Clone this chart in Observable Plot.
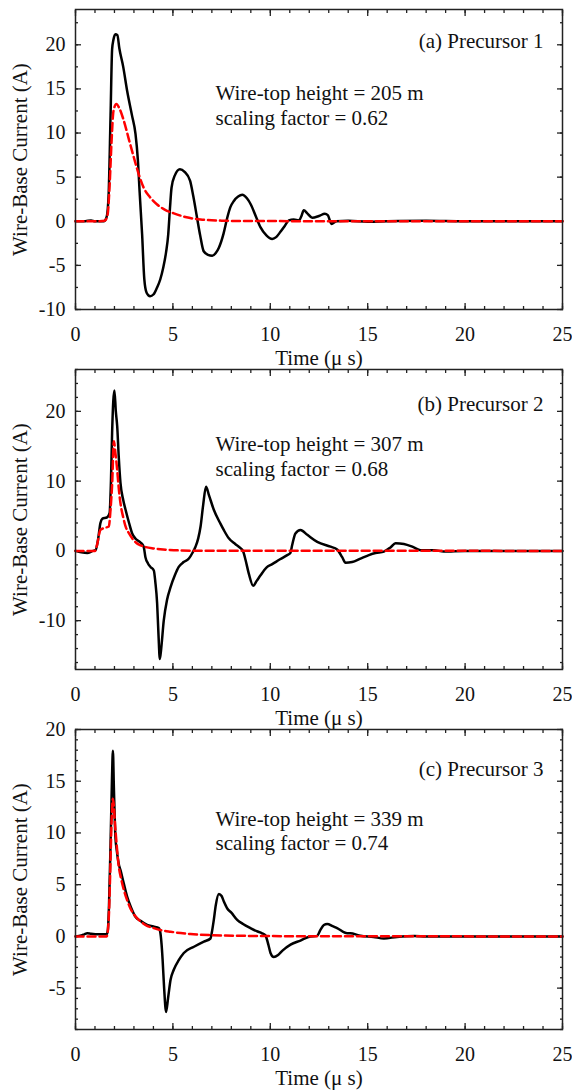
<!DOCTYPE html>
<html><head><meta charset="utf-8">
<script src="https://cdn.jsdelivr.net/npm/d3@7"></script>
<script src="https://cdn.jsdelivr.net/npm/@observablehq/plot@0.6"></script>
<style>
body{margin:0;background:#fff}
#chart svg{display:block;overflow:visible !important;background:transparent !important;font-family:"Liberation Serif","Times New Roman",serif !important;font-size:20px}
#chart svg text{font-family:"Liberation Serif","Times New Roman",serif !important}
</style>
</head><body><div id="chart"></div>
<script>
// ---- Data (time in µs, current in A) ----
const p1MeasT = [0,0.5,0.8,1.0,1.45,1.6,1.7,1.8,1.88,1.95,2.05,2.15,2.25,2.45,2.65,2.9,3.08,3.2,3.3,3.42,3.53,3.65,3.83,4.0,4.17,4.35,4.5,4.65,4.76,4.85,4.93,5.1,5.36,5.6,5.88,6.05,6.24,6.4,6.58,6.8,7.02,7.2,7.36,7.6,7.79,7.95,8.13,8.35,8.56,8.8,9.0,9.25,9.5,9.8,10.1,10.3,10.52,10.75,10.95,11.2,11.47,11.6,11.72,11.9,12.15,12.5,12.8,12.95,13.14,13.4,14,15,16,18,20,22,25];
const p1MeasI = [0,0,0.1,0,0,0.5,3,12,19.5,20.6,21.2,21.1,19.6,17.5,14.8,12,9.9,7,3,-1.5,-6.5,-8.1,-8.5,-8.3,-7.6,-6.6,-5.3,-3.5,-1.5,1.5,3.8,5.2,5.9,5.6,4.6,2.8,0.4,-1.6,-3.4,-3.8,-3.9,-3.6,-3.0,-1.4,0.4,1.6,2.3,2.8,3.0,2.6,1.9,0.6,-0.7,-1.6,-2.0,-1.8,-1.2,-0.5,0.1,0.2,0.1,0.6,1.25,0.9,0.4,0.6,0.85,0.7,-0.3,0,0.05,-0.05,0,0.05,0,0,0];
const p1ModelT = [0,1.0,1.5,1.65,1.75,1.85,1.95,2.1,2.25,2.48,2.75,3.0,3.25,3.5,3.8,4.19,4.6,5.05,5.7,6.42,7.5,9,25];
const p1ModelI = [0,0,0.05,0.8,4,9,12.5,13.3,12.8,11.4,9.2,7.2,5.3,3.8,2.8,1.9,1.3,0.9,0.45,0.2,0.07,0.02,0];

const p2MeasT = [0,0.3,0.6,0.9,1.03,1.15,1.28,1.37,1.62,1.75,1.82,1.88,1.94,2.0,2.07,2.14,2.22,2.31,2.45,2.57,2.75,2.91,3.1,3.34,3.5,3.59,3.72,3.85,4.02,4.1,4.19,4.26,4.33,4.4,4.53,4.7,4.88,5.1,5.3,5.55,5.82,6.0,6.16,6.3,6.42,6.55,6.7,6.85,7.1,7.44,7.61,7.87,8.2,8.47,8.6,8.73,8.9,9.12,9.3,9.5,9.8,10.1,10.5,10.87,11.03,11.12,11.29,11.55,11.9,12.41,13.09,13.43,13.69,13.86,14.2,14.63,15.06,15.4,15.83,16.17,16.43,16.86,17.37,17.71,18.4,18.9,20,22,25];
const p2MeasI = [0,-0.2,-0.3,0,0.1,1.5,4.0,4.6,4.8,5.4,10,17,21.5,23.0,20,17.9,13.5,9.7,7.3,5.9,4.0,2.5,1.7,1.2,0.6,-0.9,-1.8,-2.3,-2.8,-4.5,-7.5,-12,-15.5,-14,-10.0,-7.0,-5.2,-3.5,-2.3,-1.6,-1.1,-0.3,0.6,1.8,3.5,6.5,9.2,8.0,5.9,3.9,3.0,1.8,1.0,0.4,0,-1.3,-3.3,-5.0,-4.3,-3.5,-2.4,-1.9,-1.2,-0.6,-0.3,0.8,2.5,3.0,2.3,1.3,0.6,0.2,-0.9,-1.7,-1.6,-1.1,-0.6,-0.3,-0.1,0.5,1.1,1.0,0.5,0.1,0.1,-0.1,0,0,0];
const p2ModelT = [0,1.0,1.1,1.28,1.5,1.71,1.8,1.88,1.97,2.05,2.14,2.22,2.31,2.45,2.57,2.75,2.91,3.1,3.34,3.6,4.02,4.5,5.05,6,25];
const p2ModelI = [0,0,0.8,3.0,3.3,3.5,6,9.5,15.7,14,11.6,9,6.8,4.8,3.5,2.5,1.8,1.2,0.8,0.55,0.35,0.2,0.1,0.03,0];

const p3MeasT = [0,0.3,0.45,0.6,0.8,1.2,1.6,1.66,1.72,1.8,1.87,1.92,1.97,2.05,2.12,2.22,2.31,2.48,2.65,2.85,3.08,3.34,3.68,4.0,4.28,4.36,4.42,4.47,4.55,4.65,4.75,4.88,5.05,5.3,5.56,6.08,6.59,6.93,7.0,7.1,7.2,7.36,7.5,7.61,7.79,8.0,8.3,8.6,8.98,9.3,9.58,9.75,9.9,10.01,10.18,10.4,10.61,11.04,11.55,12.06,12.4,12.58,12.75,12.92,13.2,13.43,13.95,14.1,14.63,15.3,15.83,16.5,17.4,18,20,22,25];
const p3MeasI = [0,0.1,0.2,0.3,0.25,0.2,0.2,0.6,3,9,15,17.95,14.4,9.6,8.3,7.0,6.4,5.1,3.85,2.8,1.9,1.5,1.1,0.95,0.8,0.3,-0.8,-2.2,-5,-7.3,-6,-4.2,-3.2,-2.3,-1.6,-1.0,-0.5,-0.2,0.4,1.6,3.0,4.1,3.9,3.4,2.7,2.3,1.6,1.2,0.8,0.5,0.3,0.1,-0.8,-1.6,-2.0,-1.8,-1.4,-0.8,-0.4,0,0.05,0.65,1.1,1.2,1.0,0.8,0.3,0.3,0.07,-0.05,-0.2,-0.05,0.05,0,0,0,0];
const p3ModelT = [0,1.0,1.6,1.7,1.78,1.85,1.92,2.05,2.22,2.35,2.48,2.65,2.82,3.05,3.34,3.65,4.02,4.4,4.88,5.4,5.9,7,8.5,10,12,25];
const p3ModelI = [0,0,0,1.5,6,11,13.3,10.3,6.8,5.5,4.5,3.5,2.7,2.0,1.45,1.05,0.8,0.6,0.45,0.32,0.23,0.12,0.06,0.03,0.01,0];

// ---- Labels & ticks ----
const panelTitles = ["(a) Precursor 1", "(b) Precursor 2", "(c) Precursor 3"];
const wireHeights = [205, 307, 339];
const scalingFactors = ["0.62", "0.68", "0.74"];
const xLabel = "Time (\u03bc s)";
const yLabel = "Wire-Base Current (A)";
const xMajor = [0, 5, 10, 15, 20, 25];
const xMinor = [0,1,2,3,4,5,6,7,8,9,10,11,12,13,14,15,16,17,18,19,20,21,22,23,24,25];
const yDomains = [[-10, 24], [-17, 26], [-9, 20]];
const yMajors = [[-10, -5, 0, 5, 10, 15, 20], [-10, 0, 10, 20], [-5, 0, 5, 10, 15, 20]];
const yMinors = [
  [-10,-7.5,-5,-2.5,0,2.5,5,7.5,10,12.5,15,17.5,20,22.5],
  [-16,-14,-12,-10,-8,-6,-4,-2,0,2,4,6,8,10,12,14,16,18,20,22,24,26],
  [-9,-8,-7,-6,-5,-4,-3,-2,-1,0,1,2,3,4,5,6,7,8,9,10,11,12,13,14,15,16,17,18,19,20]
];
const series = [
  [p1MeasT, p1MeasI, p1ModelT, p1ModelI],
  [p2MeasT, p2MeasI, p2ModelT, p2ModelI],
  [p3MeasT, p3MeasI, p3ModelT, p3ModelI]
];
const textDy = [[38, 90, 115], [41, 81, 106], [46, 96, 120]];

const toRows = (T, I) => T.map((t, i) => ({t, i: I[i]}));
const fmt = d => String(d);

series.forEach(([mT, mI, sT, sI], k) => {
  const meas = toRows(mT, mI);
  const model = toRows(sT, sI);
  const axStroke = {stroke: "#222", strokeWidth: 1.3};
  const last = k === series.length - 1;
  const svg = Plot.plot({
    width: 572,
    height: last ? 370 : 360,
    marginTop: 9,
    marginBottom: last ? 61 : 51,
    marginLeft: 75,
    marginRight: 10,
    x: {domain: [0, 25]},
    y: {domain: yDomains[k]},
    marks: [
      Plot.axisX({ticks: xMajor, anchor: "bottom", tickSize: -6, tickPadding: 23, tickFormat: fmt, label: null, fontSize: 20, fill: "#111", ...axStroke}),
      Plot.axisX({ticks: xMinor, anchor: "bottom", tickSize: -3, fill: "none", label: null, ...axStroke}),
      Plot.axisX({ticks: xMajor, anchor: "top", tickSize: -6, fill: "none", label: null, ...axStroke}),
      Plot.axisX({ticks: xMinor, anchor: "top", tickSize: -3, fill: "none", label: null, ...axStroke}),
      Plot.axisY({ticks: yMajors[k], anchor: "left", tickSize: -6, tickPadding: 16, tickFormat: fmt, label: null, fontSize: 20, fill: "#111", ...axStroke}),
      Plot.axisY({ticks: yMinors[k], anchor: "left", tickSize: -3, fill: "none", label: null, ...axStroke}),
      Plot.axisY({ticks: yMajors[k], anchor: "right", tickSize: -6, fill: "none", label: null, ...axStroke}),
      Plot.axisY({ticks: yMinors[k], anchor: "right", tickSize: -3, fill: "none", label: null, ...axStroke}),
      Plot.line(meas, {x: "t", y: "i", stroke: "#000", strokeWidth: 2.5, curve: "monotone-x"}),
      Plot.line(model, {x: "t", y: "i", stroke: "#ff0000", strokeWidth: 2.5, strokeDasharray: "8,4", curve: "monotone-x"}),
      Plot.frame({stroke: "#222", strokeWidth: 1.5}),
      Plot.text([panelTitles[k]], {frameAnchor: "top-right", textAnchor: "end", lineAnchor: "bottom", dx: -19, dy: textDy[k][0], fontSize: 21, fill: "#111"}),
      Plot.text([`Wire-top height = ${wireHeights[k]} m`], {frameAnchor: "top-left", textAnchor: "start", lineAnchor: "bottom", dx: 140, dy: textDy[k][1], fontSize: 21, fill: "#111"}),
      Plot.text([`scaling factor = ${scalingFactors[k]}`], {frameAnchor: "top-left", textAnchor: "start", lineAnchor: "bottom", dx: 140, dy: textDy[k][2], fontSize: 21, fill: "#111"}),
      Plot.text([xLabel], {frameAnchor: "bottom", lineAnchor: "middle", dy: 49, fontSize: 21, fill: "#111"}),
      Plot.text([yLabel], {frameAnchor: "left", rotate: -90, lineAnchor: "middle", textAnchor: "middle", dx: -55, fontSize: 21, fill: "#111"})
    ]
  });
  document.getElementById("chart").appendChild(svg);
});
</script>
</body></html>
